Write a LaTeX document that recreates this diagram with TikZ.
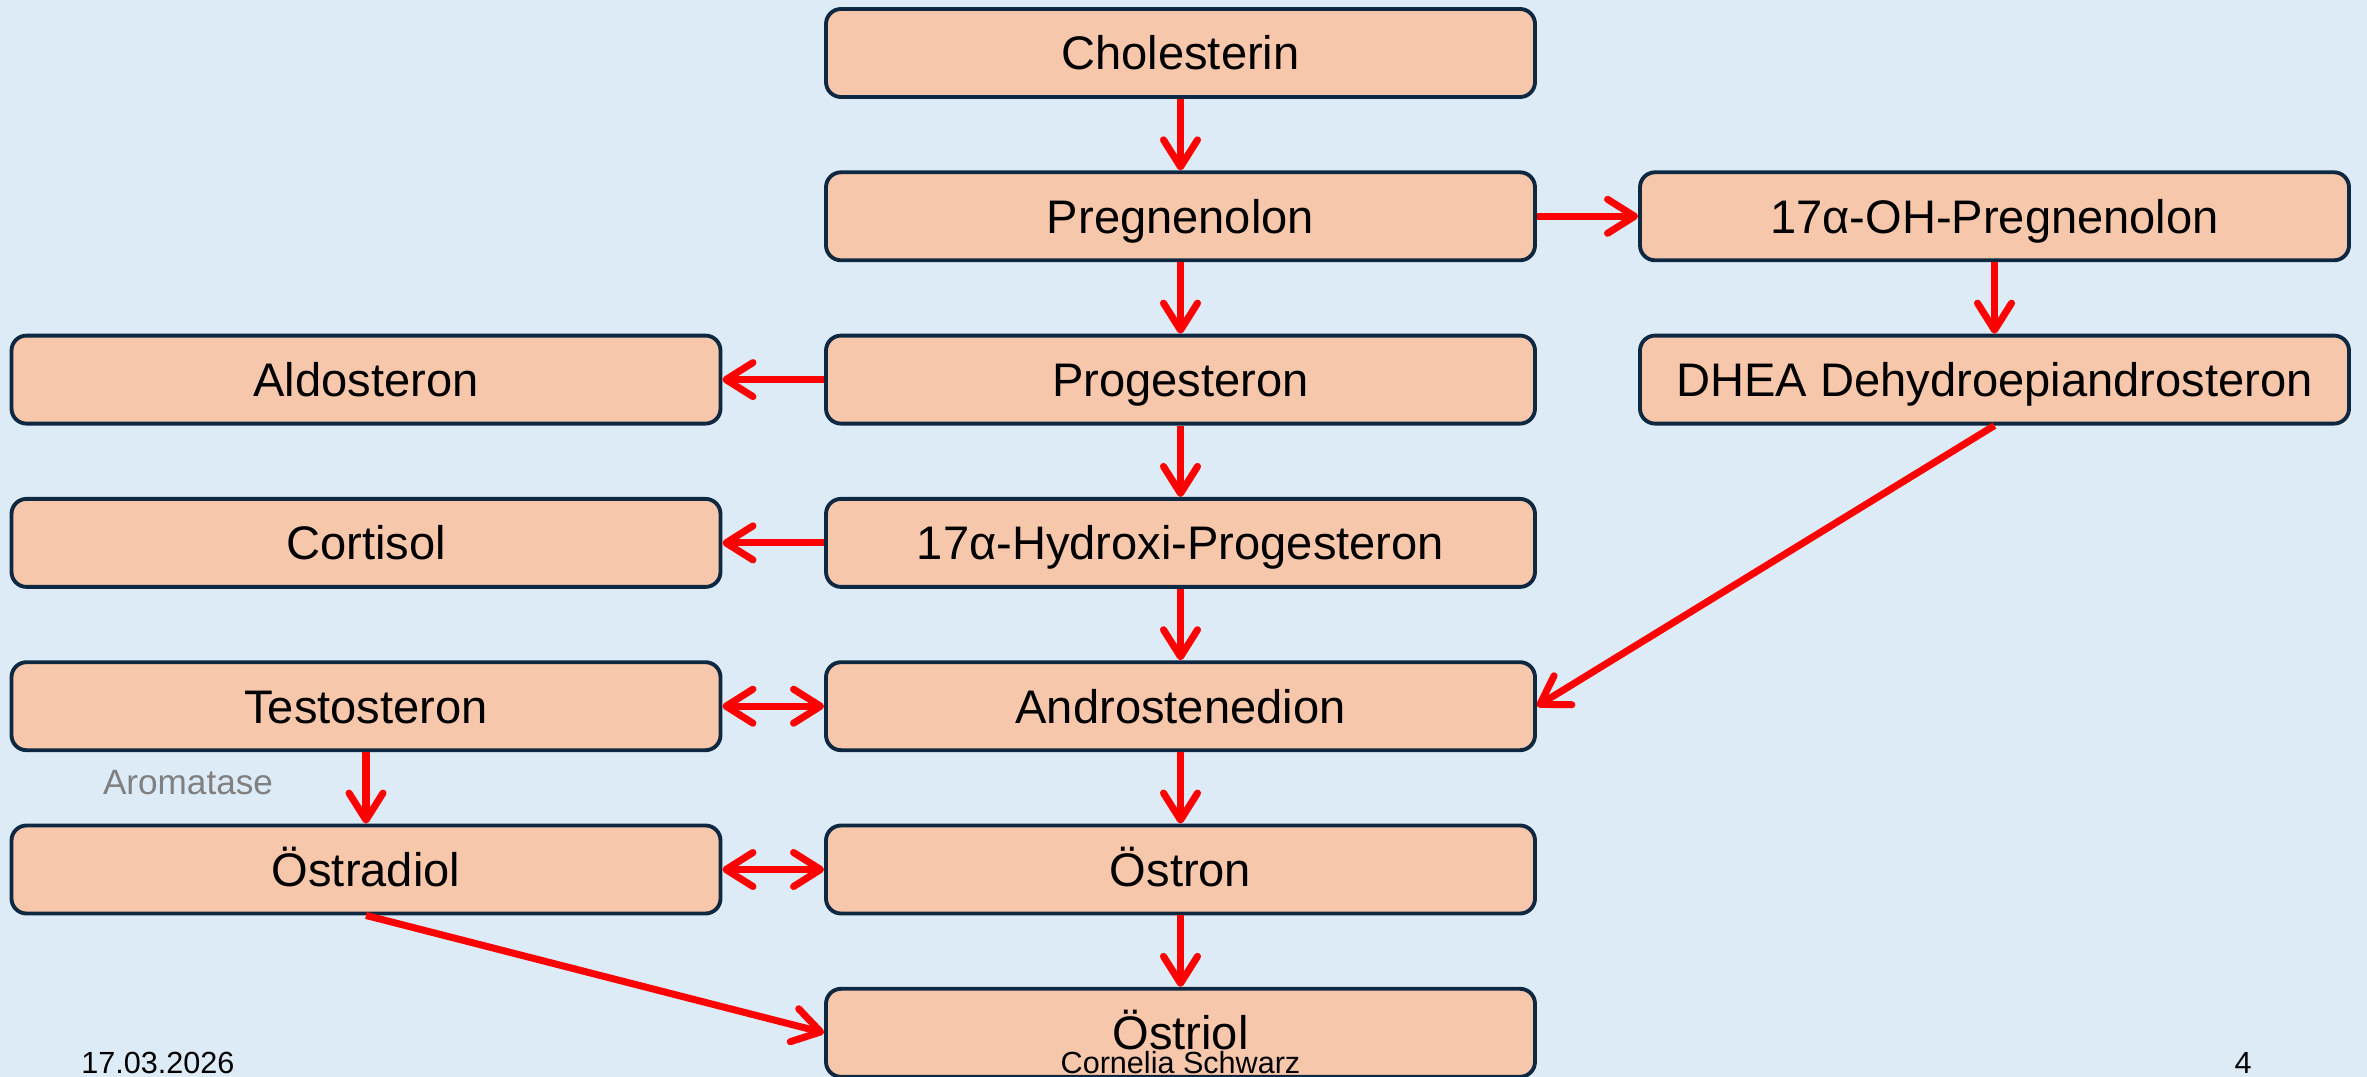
\documentclass[tikz,border=0pt]{standalone}
\usepackage{fontspec}
\setmainfont{Liberation Sans}
\usetikzlibrary{arrows.meta, positioning, calc}
\definecolor{slidebg}{RGB}{221, 235, 247}
\definecolor{boxfill}{RGB}{247, 199, 172}
\definecolor{boxline}{RGB}{14, 40, 65}
\definecolor{pathred}{RGB}{255, 0, 0}
\definecolor{notegray}{RGB}{128, 128, 128}

\begin{document}
\begin{tikzpicture}[
          hb/.style={rectangle, rounded corners=0.15cm,
                     minimum width=7.09cm, minimum height=0.88cm,
                     fill=boxfill, draw=boxline, line width=1.1pt,
                     inner sep=0pt, text height=12pt, text depth=2.4pt,
                     font=\fontsize{13.4}{16}\selectfont},
          conv/.style={draw=pathred, line width=2pt,
                     -{Straight Barb[length=0.27cm, width=0.34cm, round]}},
          eqlm/.style={draw=pathred, line width=2pt,
                     {Straight Barb[length=0.27cm, width=0.34cm, round]}-%
                     {Straight Barb[length=0.27cm, width=0.34cm, round]}},
          foot/.style={font=\fontsize{8.7}{10}\selectfont, anchor=base},
      ]
      \fill[slidebg] (0, 0) rectangle (23.67, -10.77);
      \useasboundingbox (0, 0) rectangle (23.67, -10.77);
      % main column
      \node[hb] (chol) at (11.805, -0.53) {Cholesterin};
      \node[hb] (preg) at (11.805, -2.163) {Pregnenolon};
      \node[hb] (prog) at (11.805, -3.796) {Progesteron};
      \node[hb] (ohprog) at (11.805, -5.429) {17α-Hydroxi-Progesteron};
      \node[hb] (andro) at (11.805, -7.062) {Androstenedion};
      \node[hb] (estron) at (11.805, -8.695) {Östron};
      \node[hb] (estriol) at (11.805, -10.328) {Östriol};
      % right column
      \node[hb] (ohpreg) at (19.945, -2.163) {17α-OH-Pregnenolon};
      \node[hb] (dhea) at (19.945, -3.796) {DHEA Dehydroepiandrosteron};
      % left column
      \node[hb] (aldo) at (3.66, -3.796) {Aldosteron};
      \node[hb] (cort) at (3.66, -5.429) {Cortisol};
      \node[hb] (testo) at (3.66, -7.062) {Testosteron};
      \node[hb] (estra) at (3.66, -8.695) {Östradiol};
      \node[font=\fontsize{10}{12}\selectfont, text=notegray] (arom)
          at (1.88, -7.83) {Aromatase};
      % conversions
      \draw[conv] (chol) -- (preg);
      \draw[conv] (preg) -- (ohpreg);
      \draw[conv] (ohpreg) -- (dhea);
      \draw[conv] (preg) -- (prog);
      \draw[conv] (prog) -- (aldo);
      \draw[conv] (prog) -- (ohprog);
      \draw[conv] (ohprog) -- (cort);
      \draw[conv] (ohprog) -- (andro);
      \draw[conv] (dhea.south) -- (andro.east);
      \draw[eqlm] (testo) -- (andro);
      \draw[conv] (testo) -- (estra);
      \draw[eqlm] (estra) -- (estron);
      \draw[conv] (andro) -- (estron);
      \draw[conv] (estron) -- (estriol);
      \draw[conv] (estra.south) -- (estriol.west);
      % footer
      \node[foot] (date) at (1.58, -10.73) {17.03.2026};
      \node[foot] (author) at (11.805, -10.73) {Cornelia Schwarz};
      \node[foot] (page) at (22.43, -10.73) {4};
\end{tikzpicture}
\end{document}
